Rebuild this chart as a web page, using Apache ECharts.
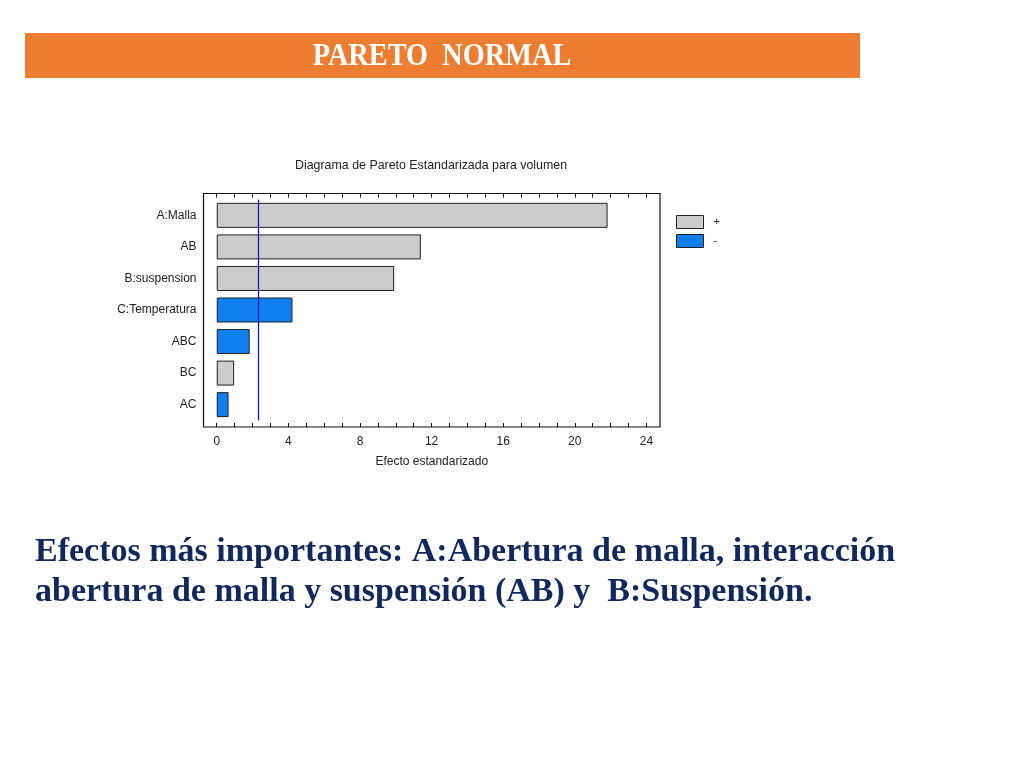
<!DOCTYPE html>
<html>
<head>
<meta charset="utf-8">
<title>Pareto normal</title>
<script src="https://cdn.jsdelivr.net/npm/echarts@6/dist/echarts.min.js"></script>
<style>
  html, body { margin: 0; padding: 0; background: #fff; }
  #chart { width: 1024px; height: 768px; }
</style>
</head>
<body>
<div id="chart"></div>
<script>
// efectos estandarizados (Pareto)
var categories = ['A:Malla', 'AB', 'B:suspension', 'C:Temperatura', 'ABC', 'BC', 'AC'];
var positiveEffects = [21.83, 11.40, 9.91, null, null, 0.97, null];
var negativeEffects = [null, null, null, 4.23, 1.84, null, 0.66];
var criticalValue = [2.306];
var xTickLabels = [0, 4, 8, 12, 16, 20, 24];

// marcas pequenas cada unidad
var xMinorTicks = [];
for (var i = 0; i <= 24; i++) xMinorTicks.push(i);

var myChart = echarts.init(document.getElementById('chart'));

var xMin = -0.74, xMax = 24.76;
var fontSans = '"Liberation Sans", Arial, sans-serif';
var fontSerif = '"Liberation Serif", "Times New Roman", serif';

myChart.setOption({
    animation: false,
    title: {
        text: 'Diagrama de Pareto Estandarizada para volumen',
        left: 290,
        top: 155,
        textStyle: { fontFamily: fontSans, fontSize: 12.4, fontWeight: 'normal', color: '#222' }
    },
    legend: {
        data: ['+', '-'],
        orient: 'vertical',
        left: 671,
        top: 210,
        itemWidth: 27,
        itemHeight: 13,
        itemGap: 5,
        icon: 'rect',
        textStyle: { fontFamily: fontSans, fontSize: 11, color: '#222', padding: [0, 0, 0, 5] },
        itemStyle: { borderColor: '#222', borderWidth: 1 }
    },
    grid: [
        { left: 203.5, top: 199.6, width: 456.5, height: 220.8 },
        { left: 203.5, top: 193.5, width: 456.5, height: 233.5, show: true,
          borderColor: '#111', borderWidth: 1.2, backgroundColor: 'transparent' }
    ],
    xAxis: [
        {
            type: 'value', gridIndex: 0, position: 'bottom', offset: 6.6,
            min: xMin, max: xMax,
            axisLine: { show: false },
            splitLine: { show: false },
            axisTick: { show: true, inside: true, length: 4, customValues: xMinorTicks,
                        lineStyle: { color: '#111' } },
            axisLabel: { customValues: xTickLabels, margin: 9,
                         fontFamily: fontSans, fontSize: 12, color: '#222' },
            name: 'Efecto estandarizado',
            nameLocation: 'middle',
            nameGap: 29,
            nameTextStyle: { fontFamily: fontSans, fontSize: 12, color: '#222' }
        },
        {
            type: 'value', gridIndex: 0, position: 'top', offset: 6.1,
            min: xMin, max: xMax,
            axisLine: { show: false },
            splitLine: { show: false },
            axisTick: { show: true, inside: true, length: 4, customValues: xMinorTicks,
                        lineStyle: { color: '#111' } },
            axisLabel: { show: false }
        },
        { type: 'value', gridIndex: 1, show: false, min: 0, max: 1 }
    ],
    yAxis: [
        {
            type: 'category', gridIndex: 0, data: categories, inverse: true,
            axisLine: { show: false },
            axisTick: { show: false },
            axisLabel: { margin: 7, fontFamily: fontSans, fontSize: 12, color: '#222' }
        },
        { type: 'value', gridIndex: 1, show: false, min: 0, max: 1 }
    ],
    series: [
        {
            name: '+',
            type: 'bar',
            stack: 'efecto',
            xAxisIndex: 0,
            yAxisIndex: 0,
            barWidth: 25,
            data: positiveEffects,
            itemStyle: { color: '#cccccc', borderColor: '#222', borderWidth: 1 },
            markLine: {
                silent: true,
                symbol: 'none',
                label: { show: false },
                lineStyle: { color: '#1515b8', width: 1.3, type: 'solid' },
                data: criticalValue.map(function (v) { return { xAxis: v }; })
            }
        },
        {
            name: '-',
            type: 'bar',
            stack: 'efecto',
            xAxisIndex: 0,
            yAxisIndex: 0,
            barWidth: 25,
            data: negativeEffects,
            itemStyle: { color: '#0f7ff0', borderColor: '#222', borderWidth: 1 }
        }
    ],
    graphic: [
        {
            type: 'rect',
            shape: { x: 25, y: 33, width: 835, height: 45 },
            style: { fill: '#ed7d31' },
            z: 0
        },
        {
            type: 'text',
            x: 442, y: 57,
            scaleX: 0.885,
            style: {
                text: 'PARETO  NORMAL',
                fill: '#fff',
                font: 'bold 32px ' + fontSerif,
                textAlign: 'center',
                textVerticalAlign: 'middle'
            }
        },
        {
            type: 'text',
            left: 35, top: 532,
            style: {
                text: 'Efectos más importantes: A:Abertura de malla, interacción\nabertura de malla y suspensión (AB) y  B:Suspensión.',
                fill: '#10285c',
                font: 'bold 34px ' + fontSerif,
                lineHeight: 40
            }
        }
    ]
});
</script>
</body>
</html>
